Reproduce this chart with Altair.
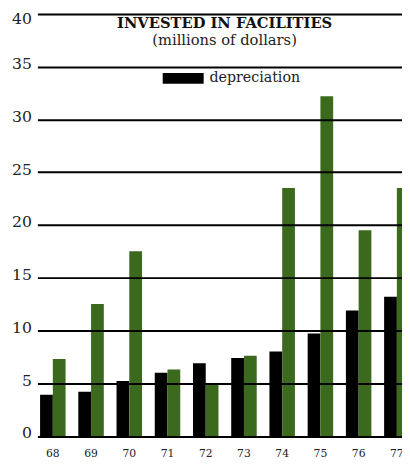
import altair as alt
import pandas as pd

years = ["68", "69", "70", "71", "72", "73", "74", "75", "76", "77"]
series = ["depreciation", "invested"]
depreciation = [3.9, 4.2, 5.2, 6.0, 6.9, 7.4, 8.0, 9.7, 11.9, 13.2]
invested = [7.3, 12.5, 17.5, 6.3, 5.0, 7.6, 23.5, 32.2, 19.5, 23.5]
y_ticks = [0, 5, 10, 15, 20, 25, 30, 35, 40]
colors = ["#000000", "#3b6a1e"]

rows = []
for i, yr in enumerate(years):
    rows.append({"year": yr, "series": "depreciation", "value": depreciation[i]})
    rows.append({"year": yr, "series": "invested", "value": invested[i]})
df = pd.DataFrame(rows)

serif = "DejaVu Serif"

chart = alt.Chart(df).mark_bar(clip=True).encode(
    x=alt.X(
        "year:N", sort=years,
        scale=alt.Scale(range=[0, 382.5], paddingInner=0.333, paddingOuter=0.07),
        axis=alt.Axis(title=None, labelAngle=0, ticks=False, domain=False,
                      labelFont=serif, labelFontSize=11, labelPadding=12,
                      labelColor="#222222"),
    ),
    xOffset=alt.XOffset("series:N", sort=series,
                        scale=alt.Scale(paddingInner=0, paddingOuter=0)),
    y=alt.Y(
        "value:Q",
        scale=alt.Scale(domain=[0, 40], nice=False),
        axis=alt.Axis(title=None, values=y_ticks, grid=True, gridColor="#000000",
                      gridWidth=2, gridOpacity=1, ticks=False, domain=False,
                      labelFont=serif, labelFontSize=16, labelPadding=6,
                      labelColor="#222222", labelBaseline="middle",
                      labelOffset=alt.ExprRef(expr="datum.value == 40 ? 5 : -3"),
                      zindex=1),
    ),
    color=alt.Color(
        "series:N",
        scale=alt.Scale(domain=series, range=colors),
        legend=alt.Legend(values=["depreciation"], orient="none", legendX=141.5,
                          legendY=58.5, title=None, padding=0,
                          symbolType="M-3.8,-1H3.8V1H-3.8Z", symbolSize=121,
                          symbolStrokeWidth=0, labelOffset=19.5,
                          labelFont=serif, labelFontSize=14.5, labelColor="#222222"),
    ),
).properties(
    width=372,
    height=430.5,
    autosize=alt.AutoSizeParams(type="none"),
    padding={"left": 30, "top": 1.5, "right": 0, "bottom": 24},
    title=alt.Title(
        "INVESTED IN FACILITIES",
        subtitle="(millions of dollars)",
        font=serif, fontSize=15, fontWeight="bold", color="#111111",
        subtitleFont=serif, subtitleFontSize=15, subtitleColor="#222222",
        subtitlePadding=3, anchor="middle", dx=5, dy=42,
    ),
).configure_view(strokeWidth=0)

chart.save("out.html", embed_options={"renderer": "svg", "actions": False})
